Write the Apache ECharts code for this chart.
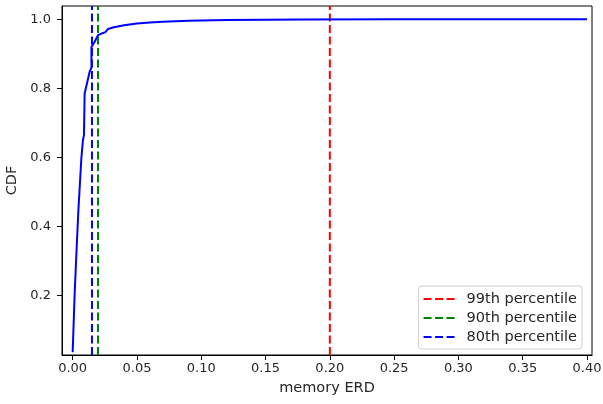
<!DOCTYPE html>
<html>
<head>
<meta charset="utf-8">
<script src="https://cdn.jsdelivr.net/npm/echarts@6/dist/echarts.min.js"></script>
<style>html,body{margin:0;padding:0;background:#fff}#c{width:603px;height:404px}</style>
</head>
<body>
<div id="c"></div>
<script>
// CDF curve (x = memory ERD, y = CDF)
const cdfX = [0.0, 0.0015, 0.003, 0.0045, 0.0068, 0.008, 0.0088, 0.0093, 0.0132, 0.0146, 0.0146, 0.0171, 0.0197, 0.022, 0.0255, 0.0275, 0.032, 0.04, 0.05, 0.06, 0.07, 0.09, 0.12, 0.18, 0.25, 0.4];
const cdfY = [0.035, 0.2, 0.33, 0.45, 0.60, 0.65, 0.665, 0.785, 0.848, 0.86, 0.92, 0.935, 0.954, 0.958, 0.963, 0.972, 0.977, 0.983, 0.988, 0.991, 0.993, 0.996, 0.998, 0.9995, 1.0, 1.0];
// percentile lines
const pctNames = ['99th percentile', '90th percentile', '80th percentile'];
const pctValues = [0.2, 0.0197, 0.015];
const pctColors = ['#ff0000', '#008000', '#0000ff'];
const xTicks = [0, 0.05, 0.1, 0.15, 0.2, 0.25, 0.3, 0.35, 0.4];
const yTicks = [0.2, 0.4, 0.6, 0.8, 1.0];

const X_MIN = -0.0083, X_MAX = 0.4039, Y_MIN = 0.027, Y_MAX = 1.0386;
const font = 'DejaVu Sans';
const txt = '#262626';

const series = [{
  name: 'CDF', type: 'line', symbol: 'none', silent: true,
  data: cdfX.map((x, i) => [x, cdfY[i]]),
  lineStyle: { color: '#0000ff', width: 2 }, z: 3
}];
pctNames.forEach((n, i) => {
  series.push({
    name: n, type: 'line', symbol: 'none', silent: true,
    data: [[pctValues[i], Y_MIN], [pctValues[i], Y_MAX]],
    itemStyle: { color: pctColors[i] },
    lineStyle: { color: pctColors[i], width: 2, type: [8, 3.5] }, z: 2
  });
});

const chart = echarts.init(document.getElementById('c'));
chart.setOption({
  animation: false,
  grid: { left: 62, top: 6, right: 11, bottom: 49, outerBoundsMode: 'none', containLabel: false, show: true, borderColor: '#000', borderWidth: 1, backgroundColor: 'transparent' },
  legend: {
    data: pctNames.map((n, i) => ({ name: n, icon: 'path://M0,0 L8,0 L8,2 L0,2 Z M11.5,0 L19.5,0 L19.5,2 L11.5,2 Z M23,0 L31,0 L31,2 L23,2 Z' })),
    orient: 'vertical', right: 21, top: 286,
    itemWidth: 31, itemHeight: 2, itemGap: 3,
    padding: [5, 5, 4, 5],
    borderColor: '#d0d0d0', borderWidth: 1, borderRadius: 3, backgroundColor: '#fff',
    textStyle: { fontFamily: font, fontSize: 14.5, color: txt, padding: [0, 0, 0, 7], lineHeight: 16 }
  },
  xAxis: {
    type: 'value', min: X_MIN, max: X_MAX,
    name: 'memory ERD', nameLocation: 'middle', nameGap: 26,
    nameTextStyle: { fontFamily: font, fontSize: 14.5, color: txt },
    axisLine: { show: true, onZero: false, lineStyle: { color: '#000', width: 1 } },
    axisTick: { show: true, length: 5, inside: false, customValues: xTicks, lineStyle: { color: '#000' } },
    axisLabel: { customValues: xTicks, fontFamily: font, fontSize: 13, color: txt, margin: 7, formatter: v => v.toFixed(2) },
    splitLine: { show: false }
  },
  yAxis: {
    type: 'value', min: Y_MIN, max: Y_MAX,
    name: 'CDF', nameLocation: 'middle', nameGap: 40, nameRotate: 90,
    nameTextStyle: { fontFamily: font, fontSize: 14.5, color: txt },
    axisLine: { show: true, onZero: false, lineStyle: { color: '#000', width: 1 } },
    axisTick: { show: true, length: 5, inside: false, customValues: yTicks, lineStyle: { color: '#000' } },
    axisLabel: { customValues: yTicks, fontFamily: font, fontSize: 13, color: txt, margin: 11, formatter: v => v.toFixed(1) },
    splitLine: { show: false }
  },
  series: series
});
</script>
</body>
</html>
